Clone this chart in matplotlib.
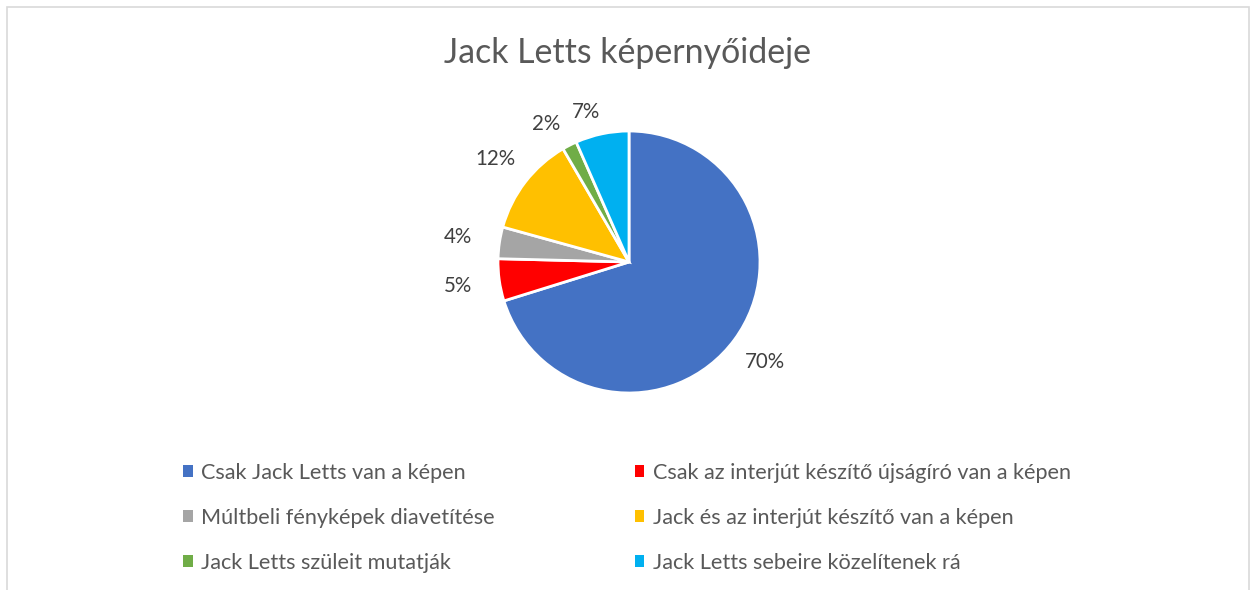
import matplotlib
matplotlib.use("Agg")
import numpy as np
import matplotlib.pyplot as plt
from matplotlib.patches import Rectangle

# share of screen time (percent)
categories = [
    "Csak Jack Letts van a képen",
    "Csak az interjút készítő újságíró van a képen",
    "Múltbeli fényképek diavetítése",
    "Jack és az interjút készítő van a képen",
    "Jack Letts szüleit mutatják",
    "Jack Letts sebeire közelítenek rá",
]
shares = [70.2, 5.2, 3.9, 12.3, 1.8, 6.6]
colors = ["#4472C4", "#FF0000", "#A5A5A5", "#FFC000", "#70AD47", "#00B0F0"]
title = "Jack Letts képernyőideje"

plt.rcParams["font.family"] = ["Lato", "DejaVu Sans"]
text_col = "#595959"

fig = plt.figure(figsize=(12.55, 5.9), dpi=100)

# light chart border like the office export
fig.patches.append(Rectangle((7 / 1255, -0.05), 1242 / 1255, 1.05 - 7 / 590,
                             transform=fig.transFigure, fill=False,
                             edgecolor="#D9D9D9", linewidth=1.2))

ax = fig.add_axes([498 / 1255, 1 - 393 / 590, 262 / 1255, 262 / 590])
wedges, texts, autotexts = ax.pie(
    shares, colors=colors, startangle=90, counterclock=False,
    autopct="%.0f%%", pctdistance=1.25,
    wedgeprops=dict(edgecolor="white", linewidth=2),
    textprops=dict(color="#404040", fontsize=14.8))
ax.set_aspect("equal")
ax.set_xlim(-1, 1)
ax.set_ylim(-1, 1)

# outside-end labels: wide labels sit a bit further out left/right
for w, t in zip(wedges, autotexts):
    ang = np.deg2rad((w.theta1 + w.theta2) / 2)
    d = 1.16 + 0.16 * abs(np.cos(ang))
    # small slices near the top get pushed a little to the left, like excel
    if np.sin(ang) > 0.85:
        ang += np.deg2rad(4)
    t.set_position((d * np.cos(ang), d * np.sin(ang)))

fig.text(0.5, 1 - 53 / 590, title, ha="center", va="center",
         fontsize=24.4, color=text_col)

order = [0, 2, 4, 1, 3, 5]
leg = fig.legend([wedges[i] for i in order], [categories[i] for i in order],
                 ncol=2, loc="upper left", bbox_to_anchor=(172 / 1255, 1 - 452 / 590),
                 frameon=False, fontsize=15.6, labelcolor=text_col,
                 handlelength=0.45, handleheight=0.45, handletextpad=0.4,
                 labelspacing=1.15, columnspacing=6.45, borderpad=0)
for h in leg.legend_handles:
    h.set_edgecolor("none")

fig.savefig("out.png", dpi=100, facecolor="white")
